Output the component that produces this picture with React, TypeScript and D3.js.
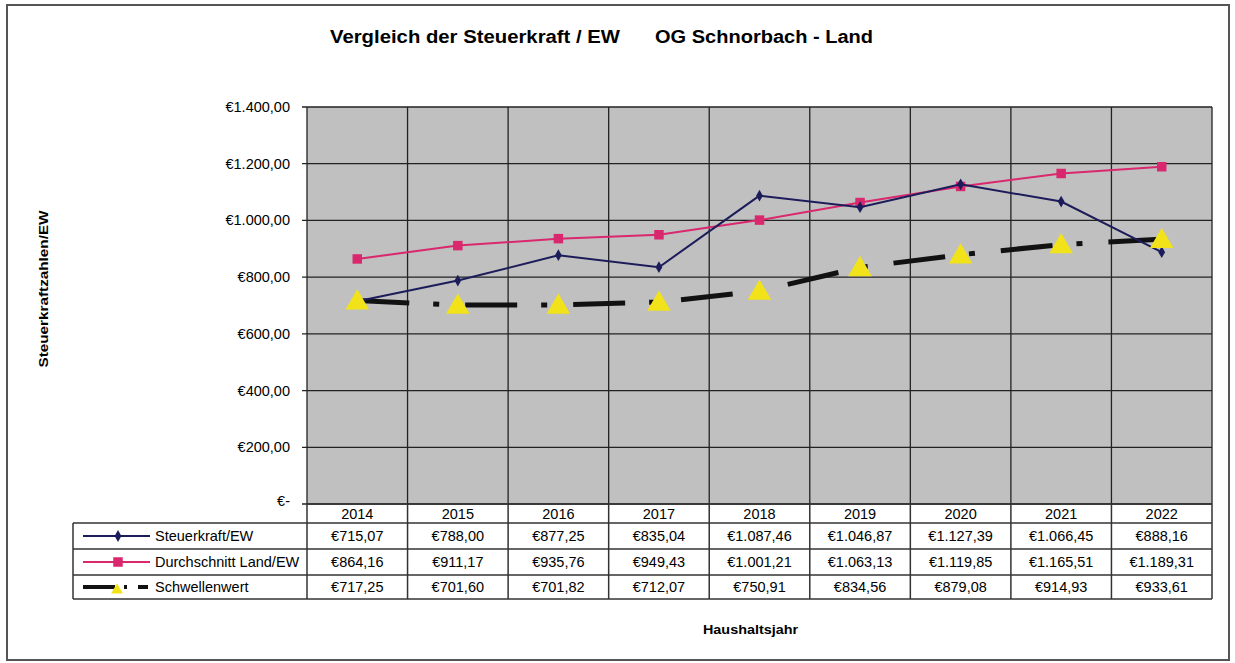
import React from "react";
import * as d3 from "d3";

// chart data
const years = ["2014", "2015", "2016", "2017", "2018", "2019", "2020", "2021", "2022"];
const steuerkraft = [715.07, 788.0, 877.25, 835.04, 1087.46, 1046.87, 1127.39, 1066.45, 888.16];
const durchschnitt = [864.16, 911.17, 935.76, 949.43, 1001.21, 1063.13, 1119.85, 1165.51, 1189.31];
const schwelle = [717.25, 701.6, 701.82, 712.07, 750.91, 834.56, 879.08, 914.93, 933.61];
const yTicks = [0, 200, 400, 600, 800, 1000, 1200, 1400];
const seriesNames = ["Steuerkraft/EW", "Durchschnitt Land/EW", "Schwellenwert"];

const W = 1235;
const H = 663;
const plot = { left: 307, right: 1212, top: 107, bottom: 504 };
const FONT = "Arial, 'Liberation Sans', sans-serif";

const de = d3.formatLocale({
  decimal: ",",
  thousands: ".",
  grouping: [3],
  currency: ["€", ""],
});
const fmtEuro = (v: number) => (v === 0 ? "€-" : de.format("$,.2f")(v));

const NAVY = "#1c1c5a";
const PINK = "#d9286e";
const YELLOW = "#f2e21a";
const SCHWELLE_DASH = "52 24 6 26";

const App = () => {
  const x = d3.scaleBand().domain(years).range([plot.left, plot.right]).padding(0);
  const y = d3.scaleLinear().domain([0, 1400]).range([plot.bottom, plot.top]);
  const cx = (yr: string) => (x(yr) as number) + x.bandwidth() / 2;

  const line = d3
    .line<number>()
    .x((_, i) => cx(years[i]))
    .y((d) => y(d));

  const tri = d3.symbol().type(d3.symbolTriangle).size(240)();
  const diamond = d3.symbol().type(d3.symbolDiamond).size(40)();
  const square = d3.symbol().type(d3.symbolSquare).size(90)();

  // table geometry
  const tableLeft = 73;
  const rowTops = [523, 549, 575, 599];
  const yearRowTop = plot.bottom;

  const legendSample = (i: number, midY: number) => {
    const x0 = 83;
    const x1 = 150;
    const mx = 118;
    if (i === 0)
      return (
        <g>
          <line x1={x0} x2={x1} y1={midY} y2={midY} stroke={NAVY} strokeWidth={2} />
          <path d={diamond!} transform={`translate(${mx},${midY})`} fill={NAVY} />
        </g>
      );
    if (i === 1)
      return (
        <g>
          <line x1={x0} x2={x1} y1={midY} y2={midY} stroke={PINK} strokeWidth={2} />
          <path d={square!} transform={`translate(${mx},${midY})`} fill={PINK} />
        </g>
      );
    return (
      <g>
        <line x1={x0} x2={x1} y1={midY} y2={midY} stroke="#111" strokeWidth={4} strokeDasharray="32 9 3 11 10" />
        <path d={d3.symbol().type(d3.symbolTriangle).size(60)()!} transform={`translate(${117},${midY + 3})`} fill={YELLOW} />
      </g>
    );
  };

  const seriesVals = [steuerkraft, durchschnitt, schwelle];

  return (
    <svg width={W} height={H} style={{ display: "block", position: "absolute", left: 0, top: 0, background: "#fff" }}>
      <rect x={7} y={5} width={1222} height={655} fill="#fff" stroke="#555" strokeWidth={2} />

      <g fontFamily={FONT} fontWeight="bold" fontSize={18}>
        <text x={330} y={43} textLength={290} lengthAdjust="spacingAndGlyphs">
          Vergleich der Steuerkraft / EW
        </text>
        <text x={655} y={43} textLength={218} lengthAdjust="spacingAndGlyphs">
          OG Schnorbach - Land
        </text>
      </g>

      {/* plot background */}
      <rect x={plot.left} y={plot.top} width={plot.right - plot.left} height={plot.bottom - plot.top} fill="#c0c0c0" />

      {/* horizontal grid + tick labels */}
      {yTicks.map((t) => (
        <g key={t}>
          <line x1={plot.left - 5} x2={plot.right} y1={y(t)} y2={y(t)} stroke="#222" strokeWidth={1.3} />
          <text x={290} y={y(t) + (t === 0 ? 2 : 5)} textAnchor="end" fontFamily={FONT} fontSize={14.5}>
            {fmtEuro(t)}
          </text>
        </g>
      ))}

      {/* vertical grid */}
      {years.map((yr) => (
        <line key={yr} x1={x(yr)} x2={x(yr)} y1={plot.top} y2={plot.bottom} stroke="#222" strokeWidth={1.3} />
      ))}
      <line x1={plot.right} x2={plot.right} y1={plot.top} y2={plot.bottom} stroke="#222" strokeWidth={1.3} />

      {/* Schwellenwert */}
      <path d={line(schwelle)!} fill="none" stroke="#111" strokeWidth={5} strokeDasharray={SCHWELLE_DASH} />
      {/* Durchschnitt */}
      <path d={line(durchschnitt)!} fill="none" stroke={PINK} strokeWidth={2} />
      {durchschnitt.map((v, i) => (
        <path key={i} d={square!} transform={`translate(${cx(years[i])},${y(v)})`} fill={PINK} />
      ))}
      {/* Steuerkraft */}
      <path d={line(steuerkraft)!} fill="none" stroke={NAVY} strokeWidth={2} />
      {steuerkraft.map((v, i) => (
        <path key={i} d={diamond!} transform={`translate(${cx(years[i])},${y(v)})`} fill={NAVY} />
      ))}
      {schwelle.map((v, i) => (
        <path key={i} d={tri!} transform={`translate(${cx(years[i])},${y(v) + 2})`} fill={YELLOW} />
      ))}

      {/* data table */}
      <g fontFamily={FONT} fontSize={14.5}>
        {years.map((yr) => (
          <text key={yr} x={cx(yr)} y={yearRowTop + 15} textAnchor="middle">
            {yr}
          </text>
        ))}
        <line x1={plot.left} x2={plot.right} y1={plot.bottom} y2={plot.bottom} stroke="#333" strokeWidth={1.5} />
        {rowTops.map((ry, i) => (
          <line key={i} x1={tableLeft} x2={plot.right} y1={ry} y2={ry} stroke="#333" strokeWidth={1.5} />
        ))}
        <line x1={tableLeft} x2={tableLeft} y1={rowTops[0]} y2={rowTops[3]} stroke="#333" strokeWidth={1.5} />
        {years.map((yr) => (
          <line key={yr} x1={x(yr)} x2={x(yr)} y1={plot.bottom} y2={rowTops[3]} stroke="#333" strokeWidth={1.5} />
        ))}
        <line x1={plot.right} x2={plot.right} y1={plot.bottom} y2={rowTops[3]} stroke="#333" strokeWidth={1.5} />

        {seriesNames.map((name, i) => {
          const midY = (rowTops[i] + rowTops[i + 1]) / 2;
          return (
            <g key={name}>
              {legendSample(i, midY)}
              <text x={155} y={midY + 5}>{name}</text>
              {seriesVals[i].map((v, j) => (
                <text key={j} x={cx(years[j])} y={midY + 5} textAnchor="middle">
                  {fmtEuro(v)}
                </text>
              ))}
            </g>
          );
        })}
      </g>

      <text
        transform={`translate(48,${289}) rotate(-90)`}
        textAnchor="middle"
        fontFamily={FONT}
        fontWeight="bold"
        fontSize={12}
        textLength={157}
        lengthAdjust="spacingAndGlyphs"
      >
        Steuerkraftzahlen/EW
      </text>
      <text x={703} y={634} fontFamily={FONT} fontWeight="bold" fontSize={12} textLength={95} lengthAdjust="spacingAndGlyphs">
        Haushaltsjahr
      </text>
    </svg>
  );
};

export default App;
